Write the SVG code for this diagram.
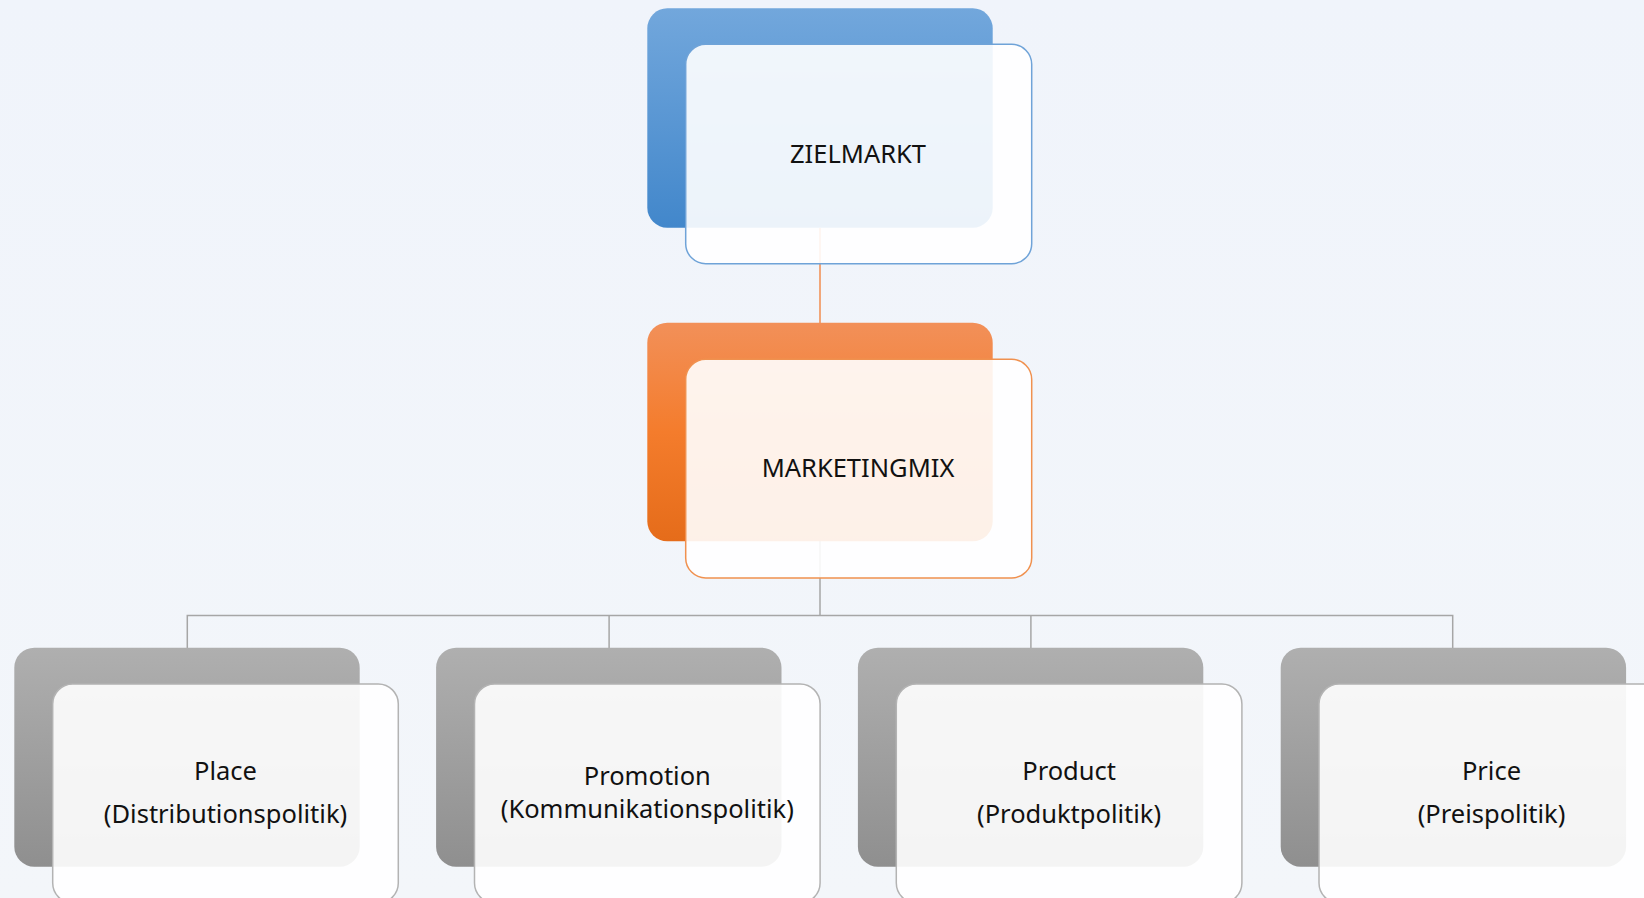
<svg xmlns="http://www.w3.org/2000/svg" width="1644" height="898" viewBox="0 0 1644 898">
<defs>
<linearGradient id="gBlue" x1="0" y1="0" x2="0" y2="1"><stop offset="0" stop-color="#72a7dc"/><stop offset="1" stop-color="#4287cb"/></linearGradient>
<linearGradient id="gOrange" x1="0" y1="0" x2="0" y2="1"><stop offset="0" stop-color="#f29059"/><stop offset="0.5" stop-color="#f47c2c"/><stop offset="1" stop-color="#e56c1a"/></linearGradient>
<linearGradient id="gGray" x1="0" y1="0" x2="0" y2="1"><stop offset="0" stop-color="#afafaf"/><stop offset="1" stop-color="#8f8f8f"/></linearGradient>
<linearGradient id="gBg" x1="0" y1="0" x2="0" y2="1"><stop offset="0" stop-color="#f0f4fb"/><stop offset="1" stop-color="#f3f6fa"/></linearGradient>
</defs>
<style>
.front{fill:#ffffff;fill-opacity:0.9;stroke-width:1.5}
.fb{stroke:#6fa3d8}
.fo{stroke:#f0914f}
.fg{stroke:#b3b3b3}
.lbl{font-family:"Noto Sans","Open Sans",sans-serif;font-size:25.5px;fill:#111111;text-anchor:middle}
.cg{stroke:#a6a6a6;stroke-width:1.5;fill:none}
.co{stroke:#f08c4f;stroke-width:1.5;fill:none}
</style>
<rect x="0" y="0" width="1644" height="898" fill="url(#gBg)"/>
<g id="connectors">
<line class="co" x1="820" y1="228" x2="820" y2="323"/>
<line class="cg" x1="820" y1="541" x2="820" y2="615.5"/>
<polyline class="cg" points="187.3,648 187.3,615.5 1452.7,615.5 1452.7,648"/>
<line class="cg" x1="609.1" y1="615.5" x2="609.1" y2="648"/>
<line class="cg" x1="1030.9" y1="615.5" x2="1030.9" y2="648"/>
</g>
<g id="zielmarkt">
<rect x="647.3" y="8.3" width="345.4" height="219.4" rx="20" fill="url(#gBlue)"/>
<rect class="front fb" x="685.7" y="44.3" width="346" height="219.4" rx="20"/>
<text class="lbl" x="858" y="163">ZIELMARKT</text>
</g>
<g id="marketingmix">
<rect x="647.3" y="322.7" width="345.4" height="218.6" rx="20" fill="url(#gOrange)"/>
<rect class="front fo" x="685.7" y="359.3" width="346" height="218.6" rx="20"/>
<text class="lbl" x="858" y="476.5">MARKETINGMIX</text>
</g>
<g id="place">
<rect x="14.3" y="647.7" width="345.4" height="219" rx="20" fill="url(#gGray)"/>
<rect class="front fg" x="52.7" y="684" width="345.6" height="219" rx="20"/>
<text class="lbl" x="225.5" y="780">Place</text>
<text class="lbl" x="225.5" y="822.5">(Distributionspolitik)</text>
</g>
<g id="promotion">
<rect x="436.1" y="647.7" width="345.4" height="219" rx="20" fill="url(#gGray)"/>
<rect class="front fg" x="474.5" y="684" width="345.6" height="219" rx="20"/>
<text class="lbl" x="647.3" y="785">Promotion</text>
<text class="lbl" x="647.3" y="817.5">(Kommunikationspolitik)</text>
</g>
<g id="product">
<rect x="857.9" y="647.7" width="345.4" height="219" rx="20" fill="url(#gGray)"/>
<rect class="front fg" x="896.3" y="684" width="345.6" height="219" rx="20"/>
<text class="lbl" x="1069.1" y="780">Product</text>
<text class="lbl" x="1069.1" y="822.5">(Produktpolitik)</text>
</g>
<g id="price">
<rect x="1280.7" y="647.7" width="345.4" height="219" rx="20" fill="url(#gGray)"/>
<rect class="front fg" x="1319" y="684" width="345.6" height="219" rx="20"/>
<text class="lbl" x="1491.5" y="780">Price</text>
<text class="lbl" x="1491.5" y="822.5">(Preispolitik)</text>
</g>
</svg>
